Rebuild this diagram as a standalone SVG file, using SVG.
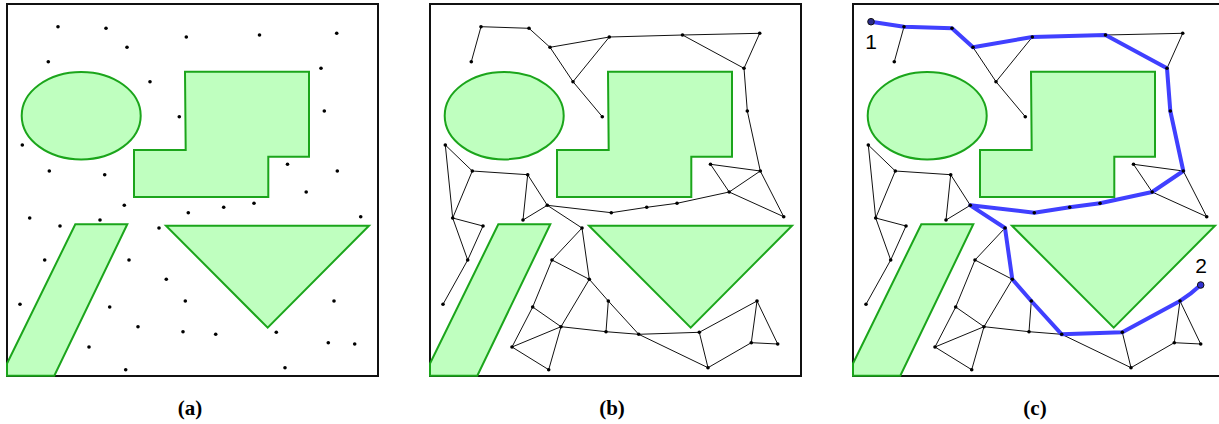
<svg xmlns="http://www.w3.org/2000/svg" xmlns:xlink="http://www.w3.org/1999/xlink" width="1219" height="424" viewBox="0 0 1219 424">
<style>
.frame{fill:#fff;stroke:#111;stroke-width:2}
.obs{fill:#bfffbf;stroke:#1ba51b;stroke-width:2;stroke-linejoin:miter}
.edge{fill:none;stroke:#111;stroke-width:1}
.dot{fill:#000}
.path{fill:none;stroke:#4040ff;stroke-width:4;stroke-linejoin:round;stroke-linecap:round}
.cap{font-family:'Liberation Serif','DejaVu Serif',serif;font-weight:bold;font-size:21px;text-anchor:middle;fill:#000}
.num{font-family:'Liberation Sans',Arial,sans-serif;font-size:21px;text-anchor:middle;fill:#000}
</style>
<defs>
<g id="obstacles">
<ellipse class="obs" cx="81.2" cy="115.7" rx="59.5" ry="43.7"/>
<polygon class="obs" points="185,71.7 309,71.7 309,156.7 268.3,156.7 268.3,197 134,197 134,150 185.7,150"/>
<polygon class="obs" points="75.3,224.3 127.3,224.3 54.3,375.7 7,375.7 7,363.5"/>
<polygon class="obs" points="166,225.7 369,225.7 267.7,327.7"/>
</g>
<path id="edges" class="edge" d="M58,26.7L106,28.3M58,26.7L48.3,61.7M106,28.3L127,47.3M127,47.3L186.3,37M127,47.3L150,81.7M186.3,37L150,81.7M150,81.7L179.3,116.7M186.3,37L259.5,35M22.3,145L49.3,171M22.3,145L29.7,218M49.3,171L104.7,174.7M49.3,171L29.7,218M104.7,174.7L100,220M104.7,174.7L124.3,205.3M259.5,35L336.7,33.3M259.5,35L321,68.3M336.7,33.3L321,68.3M321,68.3L324.3,111M324.3,111L337.3,171M287.5,164.3L337.3,171M287.5,164.3L306.2,192M306.2,192L337.3,171M337.3,171L360.7,216.7M306.2,192L360.7,216.7M306.2,192L254,203.3M254,203.3L223.7,207.3M223.7,207.3L188.3,212.7M29.7,218L60,226M29.7,218L44.7,260M60,226L44.7,260M44.7,260L20,304.3M100,220L124.3,205.3M124.3,205.3L188.3,212.7M124.3,205.3L159,228M159,228L129,260M159,228L166.3,279.3M129,260L166.3,279.3M129,260L109.7,307M166.3,279.3L138,326.7M166.3,279.3L185.3,301M185.3,301L215.7,334.3M185.3,301L183,331.7M109.7,307L138,326.7M109.7,307L89,347M138,326.7L89,347M138,326.7L125.7,369.7M89,347L125.7,369.7M138,326.7L183,331.7M183,331.7L215.7,334.3M215.7,334.3L276.3,332.3M215.7,334.3L285,367.7M276.3,332.3L285,367.7M276.3,332.3L334,301M334,301L328.3,342.7M334,301L354.7,344M328.3,342.7L354.7,344M285,367.7L328.3,342.7"/>
<g id="dots" class="dot">
<circle cx="58" cy="26.7" r="1.8"/><circle cx="106" cy="28.3" r="1.8"/><circle cx="127" cy="47.3" r="1.8"/><circle cx="186.3" cy="37" r="1.8"/><circle cx="259.5" cy="35" r="1.8"/><circle cx="336.7" cy="33.3" r="1.8"/><circle cx="48.3" cy="61.7" r="1.8"/><circle cx="321" cy="68.3" r="1.8"/><circle cx="150" cy="81.7" r="1.8"/><circle cx="324.3" cy="111" r="1.8"/><circle cx="179.3" cy="116.7" r="1.8"/><circle cx="22.3" cy="145" r="1.8"/><circle cx="49.3" cy="171" r="1.8"/><circle cx="104.7" cy="174.7" r="1.8"/><circle cx="287.5" cy="164.3" r="1.8"/><circle cx="337.3" cy="171" r="1.8"/><circle cx="306.2" cy="192" r="1.8"/><circle cx="124.3" cy="205.3" r="1.8"/><circle cx="29.7" cy="218" r="1.8"/><circle cx="60" cy="226" r="1.8"/><circle cx="100" cy="220" r="1.8"/><circle cx="188.3" cy="212.7" r="1.8"/><circle cx="223.7" cy="207.3" r="1.8"/><circle cx="254" cy="203.3" r="1.8"/><circle cx="360.7" cy="216.7" r="1.8"/><circle cx="159" cy="228" r="1.8"/><circle cx="44.7" cy="260" r="1.8"/><circle cx="129" cy="260" r="1.8"/><circle cx="166.3" cy="279.3" r="1.8"/><circle cx="185.3" cy="301" r="1.8"/><circle cx="334" cy="301" r="1.8"/><circle cx="20" cy="304.3" r="1.8"/><circle cx="109.7" cy="307" r="1.8"/><circle cx="138" cy="326.7" r="1.8"/><circle cx="183" cy="331.7" r="1.8"/><circle cx="215.7" cy="334.3" r="1.8"/><circle cx="276.3" cy="332.3" r="1.8"/><circle cx="328.3" cy="342.7" r="1.8"/><circle cx="354.7" cy="344" r="1.8"/><circle cx="89" cy="347" r="1.8"/><circle cx="125.7" cy="369.7" r="1.8"/><circle cx="285" cy="367.7" r="1.8"/>
</g>
</defs>

<g id="panel-a">
<rect class="frame" x="7" y="4" width="371" height="372"/>
<use xlink:href="#obstacles"/>
<use xlink:href="#dots"/>
</g>

<g id="panel-b" transform="translate(423,0)">
<rect class="frame" x="7" y="4" width="371" height="372"/>
<use xlink:href="#obstacles"/>
<g id="connectors-b"><use xlink:href="#edges"/></g>
<use xlink:href="#dots"/>
</g>

<g id="panel-c" transform="translate(846,0)">
<rect class="frame" x="7" y="4" width="371" height="372"/>
<use xlink:href="#obstacles"/>
<g id="connectors-c">
<use xlink:href="#edges"/>
<path class="path" d="M25,21.7L58,26.7L106,28.3L127,47.3L186.3,37L259.5,35L321,68.3L324.3,111L337.3,171L306.2,192L254,203.3L223.7,207.3L188.3,212.7L124.3,205.3L159,228L166.3,279.3L185.3,301L215.7,334.3L276.3,332.3L334,301Q345,294 354.7,285"/>
</g>
<use xlink:href="#dots"/>
<g id="start"><circle cx="25" cy="21.7" r="3.3" fill="#2a2a8a" stroke="#111" stroke-width="1"/><text class="num" x="25" y="49">1</text></g>
<g id="goal"><circle cx="354.7" cy="285" r="3.3" fill="#3030d0" stroke="#111" stroke-width="1"/><text class="num" x="355" y="273">2</text></g>
</g>

<g id="captions">
<text class="cap" x="190" y="415">(a)</text>
<text class="cap" x="612" y="415">(b)</text>
<text class="cap" x="1035" y="415">(c)</text>
</g>
</svg>
